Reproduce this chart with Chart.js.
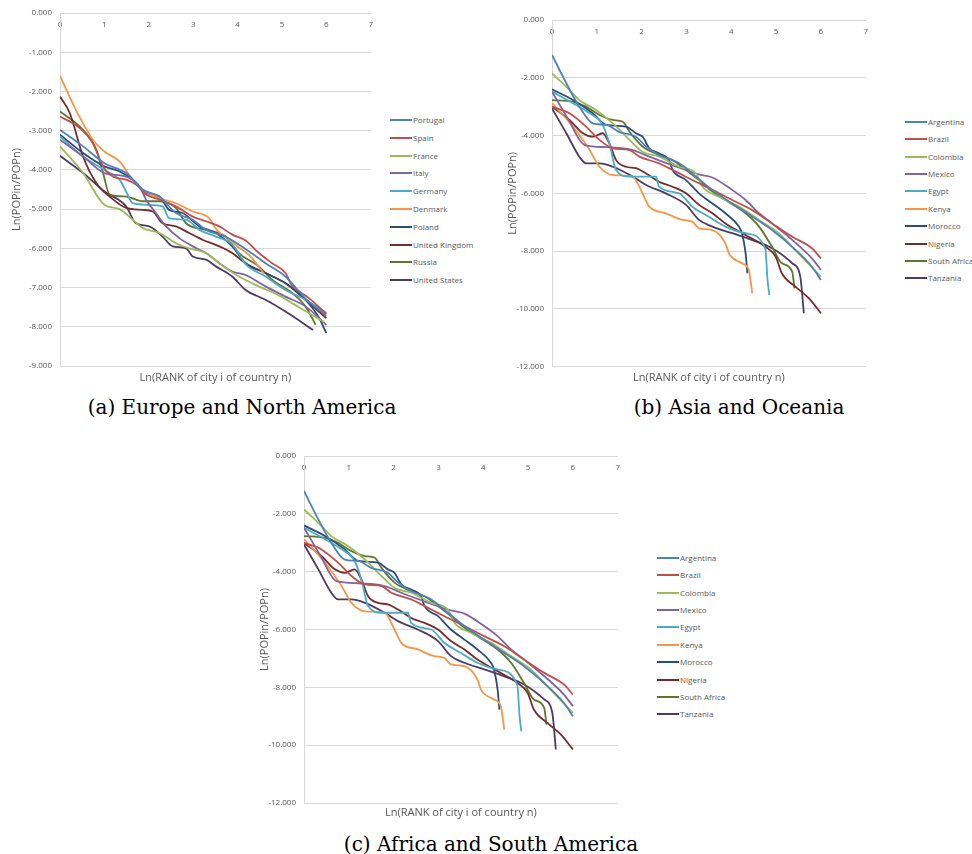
<!DOCTYPE html>
<html><head><meta charset="utf-8">
<script src="https://cdn.jsdelivr.net/npm/chart.js@4.4.1/dist/chart.umd.min.js"></script>
<style>
html,body{margin:0;padding:0;background:#fff;overflow:hidden;width:972px;height:854px;position:relative}
canvas{position:absolute}
.cap{position:absolute;font-family:"DejaVu Serif",serif;font-size:20px;color:#000;white-space:nowrap;transform:translate(-50%,-50%)}
.legend{position:absolute;font-family:"Open Sans",sans-serif;font-size:8px;color:#595959}
.legend .it{position:absolute;left:0;white-space:nowrap;height:12px;line-height:12px}
.legend .sw{position:absolute;left:0;top:5px;width:22px;height:2px}
.legend .tx{position:absolute;left:23px;top:0}
</style></head><body>
<canvas id="ca" width="380" height="392" style="left:0;top:0"></canvas>
<canvas id="cb" width="395" height="392" style="left:480px;top:0"></canvas>
<canvas id="cc" width="377" height="390" style="left:250px;top:440px"></canvas>
<div class="legend" id="la" style="left:390px;top:0"></div>
<div class="legend" id="lb" style="left:905px;top:0"></div>
<div class="legend" id="lc" style="left:657px;top:0"></div>
<div class="cap" style="left:242px;top:407px">(a) Europe and North America</div>
<div class="cap" style="left:739px;top:407px">(b) Asia and Oceania</div>
<div class="cap" style="left:491px;top:844px">(c) Africa and South America</div>
<script>
// ---- data: Europe and North America ----
const EUROPE_NAMES = ["Portugal","Spain","France","Italy","Germany","Denmark","Poland","United Kingdom","Russia","United States"];
const PORTUGAL = [[0,-2.98],[0.52,-3.4],[1,-3.83],[1.49,-4.08],[1.86,-4.5],[2.24,-4.68],[2.61,-5.1],[2.99,-5.27],[3.29,-5.53],[3.73,-5.7],[4.26,-6.08],[4.63,-6.38],[5.08,-6.72],[5.53,-7.28],[6,-7.72]];
const SPAIN = [[0,-2.64],[0.44,-2.93],[0.74,-3.32],[0.97,-3.91],[1.19,-4.17],[1.49,-4.25],[1.72,-4.38],[1.94,-4.63],[2.24,-4.76],[2.61,-4.93],[2.99,-5.19],[3.29,-5.31],[3.59,-5.44],[3.88,-5.65],[4.18,-5.8],[4.48,-6.12],[4.78,-6.38],[5.08,-6.63],[5.2,-6.9],[5.61,-7.27],[6,-7.67]];
const FRANCE = [[0,-3.4],[0.52,-4.08],[1,-4.89],[1.34,-5.0],[1.64,-5.27],[1.86,-5.48],[2.24,-5.61],[2.61,-5.87],[2.91,-6.0],[3.29,-6.12],[3.59,-6.38],[4.03,-6.72],[4.48,-6.97],[4.93,-7.2],[5.38,-7.5],[5.95,-7.88]];
const ITALY = [[0,-3.23],[0.52,-3.66],[1,-4.08],[1.49,-4.17],[1.79,-4.42],[1.94,-4.76],[2.16,-5.1],[2.39,-5.44],[2.69,-5.74],[2.99,-5.95],[3.29,-6.12],[3.59,-6.38],[3.88,-6.59],[4.18,-6.68],[4.63,-6.97],[5.08,-7.23],[5.53,-7.48],[6,-7.95]];
const GERMANY = [[0,-3.15],[0.52,-3.66],[1,-4.0],[1.34,-4.25],[1.49,-4.55],[1.64,-4.85],[2.01,-4.89],[2.31,-4.93],[2.46,-5.23],[2.84,-5.27],[3.14,-5.53],[3.51,-5.7],[3.88,-5.9],[4.18,-6.4],[4.63,-6.72],[5.08,-7.06],[5.53,-7.31],[6,-7.65]];
const DENMARK = [[0,-1.6],[0.35,-2.45],[0.74,-3.23],[1,-3.53],[1.34,-3.78],[1.64,-4.25],[1.86,-4.5],[2.24,-4.72],[2.61,-4.85],[2.99,-5.06],[3.36,-5.23],[3.51,-5.5],[3.81,-5.78],[4.04,-5.99],[4.26,-6.17],[4.6,-6.65]];
const POLAND = [[0,-3.1],[0.52,-3.57],[1,-3.91],[1.34,-4.04],[1.64,-4.25],[1.94,-4.59],[2.24,-4.68],[2.46,-5.02],[2.76,-5.1],[3.14,-5.44],[3.51,-5.61],[3.88,-5.95],[4.18,-6.38],[4.63,-6.63],[5.08,-6.89],[5.53,-7.31],[5.82,-7.74],[6,-8.16]];
const UNITED_KINGDOM = [[0,-2.13],[0.22,-2.55],[0.52,-3.66],[0.82,-4.34],[1.12,-4.68],[1.49,-4.97],[1.86,-5.02],[2.09,-5.06],[2.31,-5.36],[2.61,-5.44],[2.91,-5.61],[3.21,-5.78],[3.59,-5.95],[3.88,-6.12],[4.18,-6.38],[4.63,-6.63],[5.08,-6.89],[5.53,-7.31],[6,-7.78]];
const RUSSIA = [[0,-2.51],[0.52,-2.98],[0.82,-3.49],[0.97,-4.08],[1.12,-4.63],[1.49,-4.68],[1.86,-4.8],[2.24,-4.8],[2.61,-4.97],[2.84,-5.36],[3.29,-5.53],[3.73,-5.7],[4.03,-6.12],[4.48,-6.46],[4.78,-6.8],[5.23,-7.14],[5.53,-7.48],[5.76,-7.95]];
const UNITED_STATES = [[0,-3.64],[0.52,-4.08],[1,-4.55],[1.49,-4.93],[1.71,-5.36],[2.01,-5.44],[2.31,-5.7],[2.54,-5.95],[2.84,-6.0],[2.99,-6.21],[3.29,-6.29],[3.51,-6.46],[3.88,-6.72],[4.18,-7.06],[4.63,-7.31],[5.08,-7.61],[5.7,-8.08]];
const EUROPE_DATA = [PORTUGAL,SPAIN,FRANCE,ITALY,GERMANY,DENMARK,POLAND,UNITED_KINGDOM,RUSSIA,UNITED_STATES];

// ---- data: panels (b) and (c) ----
const SOUTH_NAMES = ["Argentina","Brazil","Colombia","Mexico","Egypt","Kenya","Morocco","Nigeria","South Africa","Tanzania"];
const ARGENTINA = [[0,-1.21],[0.32,-2.19],[0.61,-3.0],[0.91,-3.58],[1.21,-3.63],[1.5,-3.87],[1.87,-4.04],[2.1,-4.38],[2.39,-4.67],[2.84,-4.96],[3.21,-5.42],[3.58,-5.88],[4.02,-6.35],[4.47,-6.81],[4.91,-7.27],[5.36,-7.85],[5.8,-8.54],[6,-9.0]];
const BRAZIL = [[0,-3.0],[0.39,-3.23],[0.76,-3.69],[1.06,-4.15],[1.36,-4.44],[1.73,-4.5],[1.95,-4.73],[2.39,-4.96],[2.84,-5.31],[3.21,-5.6],[3.58,-5.88],[4.02,-6.23],[4.47,-6.58],[4.91,-7.04],[5.36,-7.5],[5.8,-7.9],[6,-8.25]];
const COLOMBIA = [[0,-1.85],[0.32,-2.31],[0.61,-2.77],[0.99,-3.12],[1.36,-3.58],[1.73,-4.15],[2.02,-4.56],[2.39,-4.73],[2.84,-5.08],[3.21,-5.31],[3.36,-5.77],[3.73,-6.12],[4.17,-6.46],[4.62,-6.92],[5.06,-7.38],[5.5,-8.08],[6,-8.88]];
const MEXICO = [[0,-2.48],[0.35,-3.4],[0.73,-4.33],[1.21,-4.4],[1.8,-4.5],[2.17,-4.73],[2.76,-5.07],[3.3,-5.35],[3.58,-5.45],[4.02,-5.88],[4.32,-6.23],[4.62,-6.69],[4.91,-7.04],[5.36,-7.61],[5.8,-8.25],[6,-8.65]];
const EGYPT = [[0,-2.48],[0.47,-2.88],[0.84,-3.23],[1.13,-3.63],[1.28,-4.27],[1.43,-5.19],[1.73,-5.42],[2.32,-5.42],[2.39,-5.77],[2.84,-6.0],[3.13,-6.46],[3.5,-6.81],[3.87,-7.15],[4.32,-7.38],[4.76,-7.92],[4.81,-9.0],[4.85,-9.52]];
const KENYA = [[0,-2.88],[0.47,-3.69],[0.84,-4.5],[1.06,-5.08],[1.36,-5.37],[1.8,-5.42],[2.02,-6.0],[2.17,-6.46],[2.54,-6.69],[2.91,-6.92],[3.13,-6.98],[3.28,-7.21],[3.58,-7.27],[3.87,-7.73],[3.95,-8.08],[4.24,-8.42],[4.39,-8.65],[4.47,-9.46]];
const MOROCCO = [[0,-2.4],[0.47,-2.77],[0.91,-3.23],[1.21,-3.63],[1.65,-3.69],[1.87,-3.92],[2.02,-4.04],[2.17,-4.44],[2.39,-4.62],[2.61,-4.85],[2.69,-5.19],[2.99,-5.54],[3.28,-6.0],[3.58,-6.35],[3.87,-6.69],[4.17,-7.15],[4.24,-7.38],[4.32,-8.08],[4.36,-8.77]];
const NIGERIA = [[0,-3.0],[0.39,-3.46],[0.69,-3.92],[0.91,-4.04],[1.13,-3.92],[1.28,-4.27],[1.43,-4.85],[1.65,-5.08],[1.87,-5.13],[2.1,-5.31],[2.39,-5.6],[2.69,-5.77],[2.99,-6.0],[3.28,-6.4],[3.58,-6.69],[3.87,-7.04],[4.32,-7.44],[4.76,-7.85],[4.99,-8.19],[5.13,-8.77],[5.43,-9.23],[5.73,-9.63],[6,-10.15]];
const SOUTH_AFRICA = [[0,-2.77],[0.47,-2.83],[0.76,-3.0],[1.06,-3.29],[1.36,-3.46],[1.58,-3.52],[1.73,-3.87],[2.02,-4.38],[2.39,-4.67],[2.69,-4.85],[2.99,-5.19],[3.28,-5.54],[3.58,-5.94],[3.87,-6.23],[4.32,-6.69],[4.62,-7.15],[4.91,-7.85],[5.13,-8.42],[5.36,-8.71],[5.41,-9.29]];
const TANZANIA = [[0,-3.06],[0.32,-3.92],[0.61,-4.73],[0.76,-4.96],[1.06,-4.96],[1.36,-5.08],[1.8,-5.42],[2.1,-5.71],[2.54,-6.0],[2.99,-6.4],[3.28,-6.92],[3.58,-7.15],[4.02,-7.38],[4.47,-7.62],[4.91,-7.9],[5.36,-8.42],[5.54,-8.88],[5.62,-10.15]];
const SOUTH_DATA = [ARGENTINA,BRAZIL,COLOMBIA,MEXICO,EGYPT,KENYA,MOROCCO,NIGERIA,SOUTH_AFRICA,TANZANIA];

const X_TICKS = [0,1,2,3,4,5,6,7];
const COLORS = ["#4F81BD","#C0504D","#9BBB59","#8064A2","#4BACC6","#F79646","#2C4D75","#772C2A","#5F7530","#4D3B62"];

const TICK_FONT = {family:"Open Sans", size:8};
const TITLE_FONT = {family:"Open Sans", size:11};

function makeChart(id, names, data, cfg) {
  const datasets = names.map((n,i)=>({
    label:n,
    data:data[i].map(p=>({x:p[0],y:p[1]})),
    borderColor:COLORS[i], backgroundColor:COLORS[i],
    borderWidth:1.8, pointRadius:0, showLine:true, fill:false,
    cubicInterpolationMode:'monotone'
  }));
  return new Chart(document.getElementById(id), {
    type:'scatter',
    data:{datasets},
    options:{
      responsive:false, animation:false, events:[],
      layout:{padding:{left:0,top:cfg.top,right:cfg.right,bottom:0}},
      plugins:{legend:{display:false},tooltip:{enabled:false}},
      scales:{
        x:{type:'linear', position:{y:0}, min:0, max:7,
           afterBuildTicks:s=>{s.ticks = X_TICKS.map(v=>({value:v}));},
           grid:{display:false, drawTicks:false},
           border:{display:true,color:'#D9D9D9',width:1},
           ticks:{font:TICK_FONT,color:'#595959',padding:cfg.xpad,maxRotation:0,autoSkip:false}},
        x2:{type:'linear', position:'bottom', min:0, max:7,
           grid:{display:false,drawTicks:false}, border:{display:false},
           ticks:{display:false},
           afterFit:s=>{s.height=cfg.x2h;},
           title:{display:true,text:'Ln(RANK of city i of country n)',font:TITLE_FONT,color:'#595959',padding:{top:0,bottom:cfg.xtpb}}},
        y:{type:'linear', position:'left', min:cfg.ymin, max:0,
           ticks:{stepSize:cfg.ystep,font:TICK_FONT,color:'#595959',padding:8,callback:v=>Number(v).toFixed(3)},
           grid:{color:'#D9D9D9',drawTicks:false},
           border:{display:true,color:'#D9D9D9'},
           afterFit:s=>{s.width=cfg.yw;},
           title:{display:true,text:'Ln(POPin/POPn)',font:TITLE_FONT,color:'#595959',padding:{top:cfg.ytpt,bottom:0}}}
      }
    }
  });
}

function makeLegend(id, names, y0, step) {
  const el = document.getElementById(id);
  names.forEach((n,i)=>{
    const it = document.createElement('div');
    it.className='it';
    it.style.top = (y0 + i*step - 6)+'px';
    it.innerHTML = '<div class="sw" style="background:'+COLORS[i]+'"></div><div class="tx"></div>';
    it.querySelector('.tx').textContent = n;
    el.appendChild(it);
  });
}

makeChart('ca', EUROPE_NAMES, EUROPE_DATA, {top:13, right:8, x2h:26, xtpb:7.4, yw:60, ytpt:10.4, ymin:-9, ystep:1, xpad:7});
makeChart('cb', SOUTH_NAMES, SOUTH_DATA, {top:20, right:8, x2h:25.3, xtpb:7.4, yw:72, ytpt:26.4, ymin:-12, ystep:2, xpad:7});
makeChart('cc', SOUTH_NAMES, SOUTH_DATA, {top:16, right:8, x2h:27, xtpb:10.4, yw:54, ytpt:8.4, ymin:-12, ystep:2, xpad:7});
makeLegend('la', EUROPE_NAMES, 120, 17.8);
makeLegend('lb', SOUTH_NAMES, 121.7, 17.4);
makeLegend('lc', SOUTH_NAMES, 557.7, 17.4);
</script>
</body></html>
